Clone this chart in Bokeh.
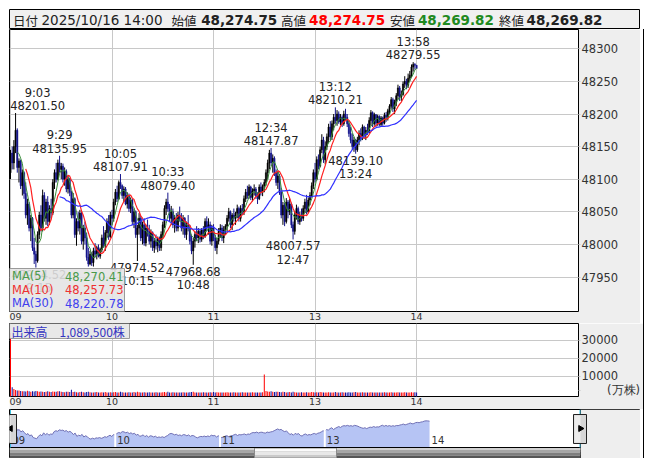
import math
import numpy as np
from bokeh.plotting import figure
from bokeh.models import Range1d, FixedTicker, Spacer, ColumnDataSource, BasicTickFormatter
from bokeh.layouts import column, row
from bokeh.core.properties import value
from bokeh.embed import file_html
from bokeh.resources import INLINE

# ---------------- data (1-minute bars, index 0 = 9:00, lunch break removed) ----------------
minutes = list(range(241))

opens = [
    48110, 48140, 48125, 48150, 48175, 48118, 48128, 48090, 48110, 48078,
    48045, 48062, 48025, 48040, 47995, 47985, 47975, 48015, 48045, 48025,
    48075, 48040, 48065, 48035, 48055, 48048, 48095, 48110, 48100, 48125,
    48115, 48120, 48100, 48112, 48085, 48100, 48080, 48045, 48070, 48015,
    48035, 48025, 48048, 48005, 48025, 48010, 47980, 47970, 47985, 47972,
    47990, 47985, 47995, 47982, 47992, 48010, 48000, 48018, 48035, 48012,
    48045, 48040, 48065, 48080, 48070, 48095, 48090, 48075, 48085, 48062,
    48075, 48055, 48068, 48035, 48050, 48015, 48025, 48040, 48010, 48030,
    48002, 48025, 48020, 48005, 48018, 47995, 48005, 47998, 48008, 47995,
    48015, 48030, 48055, 48065, 48055, 48040, 48050, 48030, 48040, 48025,
    48045, 48040, 48025, 48040, 48015, 48030, 48025, 48005, 47990, 48005,
    48015, 48010, 48020, 48008, 48022, 48012, 48035, 48025, 48030, 48005,
    48025, 48010, 47995, 48005, 48020, 48025, 48010, 48022, 48028, 48040,
    48050, 48030, 48045, 48040, 48048, 48055, 48040, 48055, 48050, 48070,
    48080, 48075, 48088, 48072, 48082, 48085, 48075, 48070, 48088, 48080,
    48090, 48095, 48110, 48125, 48140, 48125, 48132, 48110, 48095, 48105,
    48080, 48045, 48060, 48035, 48065, 48050, 48062, 48030, 48020, 48045,
    48055, 48035, 48045, 48040, 48055, 48065, 48050, 48068, 48075, 48090,
    48110, 48100, 48130, 48120, 48145, 48160, 48130, 48150, 48165, 48180,
    48165, 48185, 48195, 48190, 48200, 48188, 48195, 48185, 48200, 48195,
    48185, 48170, 48160, 48150, 48160, 48145, 48160, 48170, 48165, 48180,
    48168, 48175, 48172, 48190, 48202, 48185, 48199, 48186, 48196, 48184,
    48194, 48186, 48198, 48195, 48205, 48212, 48222, 48208, 48218, 48228,
    48240, 48226, 48230, 48246, 48250, 48244, 48255, 48259.5, 48272, 48276,
    48274.75]

highs = [
    48145, 48150, 48160, 48201.50, 48178, 48132, 48130, 48115, 48112, 48095,
    48070, 48065, 48045, 48042, 48010, 47990, 48020, 48050, 48060, 48084,
    48080, 48070, 48074, 48060, 48070, 48100, 48115, 48125, 48130, 48135.95,
    48125, 48124, 48118, 48115, 48105, 48102, 48082, 48079, 48072, 48040,
    48050, 48053, 48052, 48030, 48035, 48018, 47995, 47990, 47988, 47995,
    48002, 47998, 48000, 47995, 48015, 48028, 48022, 48040, 48045, 48050,
    48053, 48070, 48085, 48090, 48098, 48107.91, 48092, 48089, 48088, 48080,
    48078, 48072, 48070, 48055, 48052, 48030, 48048, 48044, 48035, 48040,
    48030, 48038, 48030, 48023, 48020, 48010, 48015, 48012, 48012, 48020,
    48035, 48060, 48070, 48079.40, 48062, 48059, 48055, 48045, 48048, 48050,
    48058, 48048, 48045, 48042, 48035, 48045, 48030, 48015, 48010, 48020,
    48028, 48025, 48024, 48025, 48028, 48040, 48043, 48040, 48035, 48030,
    48031, 48015, 48010, 48025, 48031, 48030, 48028, 48031, 48045, 48056,
    48052, 48048, 48055, 48050, 48061, 48058, 48060, 48062, 48075, 48085,
    48090, 48092, 48090, 48086, 48092, 48088, 48080, 48092, 48095, 48092,
    48100, 48115, 48130, 48145, 48147.87, 48138, 48135, 48115, 48112, 48108,
    48087, 48065, 48064, 48071, 48068, 48070, 48064, 48035, 48050, 48061,
    48058, 48050, 48055, 48060, 48070, 48076, 48072, 48080, 48095, 48115,
    48125, 48135, 48138, 48150, 48169, 48165, 48158, 48170, 48185, 48189,
    48190, 48200, 48210.21, 48206, 48204, 48200, 48198, 48205, 48208, 48200,
    48190, 48180, 48170, 48165, 48162, 48165, 48175, 48178, 48184, 48182,
    48180, 48185, 48195, 48206, 48204, 48202, 48200, 48199, 48198, 48197,
    48196, 48202, 48203, 48208, 48215, 48226, 48225, 48222, 48232, 48245,
    48243, 48236, 48250, 48258, 48254, 48262, 48266, 48276, 48279.55, 48278,
    48274.75]

lows = [
    48100, 48115, 48115, 48140, 48110, 48095, 48085, 48075, 48070, 48040,
    48030, 48020, 48005, 47990, 47970, 47964.52, 47972, 48008, 48020, 48020,
    48035, 48030, 48028, 48030, 48040, 48045, 48085, 48095, 48098, 48110,
    48100, 48095, 48090, 48080, 48078, 48074, 48040, 48040, 48010, 47998,
    48020, 48015, 48000, 47992, 48000, 47975, 47966, 47968, 47967, 47966,
    47980, 47977, 47980, 47978, 47988, 47995, 47990, 48010, 48007, 48010,
    48030, 48035, 48060, 48065, 48068, 48085, 48070, 48065, 48060, 48055,
    48050, 48048, 48030, 48025, 48010, 47974.52, 48015, 48005, 48000, 47998,
    47997, 48012, 48000, 47995, 47990, 47987, 47992, 47988, 47990, 47990,
    48010, 48025, 48045, 48050, 48035, 48030, 48025, 48018, 48020, 48020,
    48035, 48020, 48015, 48010, 48007, 48020, 48000, 47985, 47968.68, 47995,
    48005, 48002, 48003, 48004, 48008, 48010, 48020, 48015, 48000, 47998,
    48005, 47990, 47985, 48000, 48010, 48005, 48002, 48015, 48020, 48035,
    48025, 48022, 48035, 48030, 48040, 48035, 48035, 48045, 48045, 48065,
    48070, 48070, 48068, 48066, 48075, 48070, 48062, 48068, 48075, 48074,
    48080, 48090, 48100, 48115, 48120, 48110, 48105, 48090, 48085, 48076,
    48040, 48030, 48028, 48032, 48040, 48045, 48025, 48007.57, 48015, 48038,
    48031, 48030, 48035, 48036, 48048, 48046, 48048, 48060, 48072, 48085,
    48095, 48098, 48115, 48118, 48140, 48125, 48123, 48145, 48155, 48160,
    48160, 48175, 48185, 48182, 48185, 48183, 48180, 48182, 48190, 48180,
    48165, 48155, 48145, 48142, 48139.10, 48142, 48152, 48158, 48160, 48162,
    48160, 48168, 48170, 48182, 48180, 48182, 48180, 48182, 48181, 48181,
    48182, 48184, 48188, 48190, 48200, 48208, 48203, 48200, 48212, 48222,
    48220, 48220, 48228, 48240, 48238, 48240, 48250, 48256, 48265, 48268,
    48269.82]

closes = [
    48140, 48125, 48150, 48175, 48118, 48128, 48090, 48110, 48078, 48045,
    48062, 48025, 48040, 47995, 47985, 47975, 48015, 48045, 48025, 48075,
    48040, 48065, 48035, 48055, 48048, 48095, 48110, 48100, 48125, 48115,
    48120, 48100, 48112, 48085, 48100, 48080, 48045, 48070, 48015, 48035,
    48025, 48048, 48005, 48025, 48010, 47980, 47970, 47985, 47972, 47990,
    47985, 47995, 47982, 47992, 48010, 48000, 48018, 48035, 48012, 48045,
    48040, 48065, 48080, 48070, 48095, 48090, 48075, 48085, 48062, 48075,
    48055, 48068, 48035, 48050, 48015, 48025, 48040, 48010, 48030, 48002,
    48025, 48020, 48005, 48018, 47995, 48005, 47998, 48008, 47995, 48015,
    48030, 48055, 48065, 48055, 48040, 48050, 48030, 48040, 48025, 48045,
    48040, 48025, 48040, 48015, 48030, 48025, 48005, 47990, 48005, 48015,
    48010, 48020, 48008, 48022, 48012, 48035, 48025, 48030, 48005, 48025,
    48010, 47995, 48005, 48020, 48025, 48010, 48022, 48028, 48040, 48050,
    48030, 48045, 48040, 48048, 48055, 48040, 48055, 48050, 48070, 48080,
    48075, 48088, 48072, 48082, 48085, 48075, 48070, 48088, 48080, 48090,
    48095, 48110, 48125, 48140, 48125, 48132, 48110, 48095, 48105, 48080,
    48045, 48060, 48035, 48065, 48050, 48062, 48030, 48020, 48045, 48055,
    48035, 48045, 48040, 48055, 48065, 48050, 48068, 48075, 48090, 48110,
    48100, 48130, 48120, 48145, 48160, 48130, 48150, 48165, 48180, 48165,
    48185, 48195, 48190, 48200, 48188, 48195, 48185, 48200, 48195, 48185,
    48170, 48160, 48150, 48160, 48145, 48160, 48170, 48165, 48180, 48168,
    48175, 48172, 48190, 48202, 48185, 48199, 48186, 48196, 48184, 48194,
    48186, 48198, 48195, 48205, 48212, 48222, 48208, 48218, 48228, 48240,
    48226, 48230, 48246, 48250, 48244, 48255, 48259.5, 48272, 48276, 48274.75,
    48269.82]

volumes = [
    34000, 3800, 2900, 2300, 2000, 2100, 1800, 1600, 1700, 1500,
    1900, 1600, 1400, 1700, 1500, 1800, 1600, 1400, 1500, 1300,
    1200, 1400, 1600, 1300, 1200, 1500, 1400, 1300, 1600, 1700,
    1300, 1200, 1100, 1300, 1400, 1200, 2500, 1200, 1300, 1100,
    1000, 1200, 1300, 1100, 1000, 1200, 1400, 1100, 1000, 900,
    1100, 1200, 1000, 900, 1100, 1000, 1200, 900, 1000, 1100,
    1000, 1100, 1200, 1000, 900, 1300, 1100, 1000, 900, 1000,
    1100, 900, 1000, 1200, 1000, 1300, 1100, 900, 1000, 1100,
    900, 1000, 1100, 900, 1000, 900, 1100, 1000, 900, 1000,
    1100, 1200, 1000, 1300, 1000, 900, 1100, 1000, 900, 1000,
    1000, 900, 1100, 1000, 900, 1000, 1100, 1200, 1300, 1000,
    900, 1000, 900, 1000, 1100, 900, 1000, 900, 1100, 1000,
    1200, 1000, 1100, 900, 1000, 1000, 900, 1000, 1100, 1000,
    900, 1000, 1100, 900, 1000, 900, 1000, 1100, 900, 1000,
    1000, 900, 1000, 1100, 900, 1000, 1000, 900, 1000, 1100,
    11000, 1800, 1500, 1400, 1600, 1300, 1200, 1400, 1300, 1200,
    1100, 1300, 1200, 1000, 1100, 1200, 1000, 1300, 1100, 1000,
    900, 1000, 1100, 900, 1000, 1100, 900, 1000, 1200, 1100,
    1000, 1100, 1000, 1200, 1100, 1000, 900, 1000, 1100, 1000,
    900, 1000, 1200, 1000, 900, 1000, 1100, 900, 1000, 1000,
    1100, 900, 1000, 1100, 1200, 1000, 900, 1000, 1100, 900,
    1000, 900, 1000, 1100, 900, 1000, 1000, 900, 1000, 900,
    1000, 1100, 900, 1000, 1000, 1100, 900, 1000, 1000, 1100,
    1000, 900, 1000, 1100, 1000, 900, 1000, 1100, 1000, 1100,
    1000]

hour_ticks = [0, 60, 120, 180, 240]
hour_labels = ["09", "10", "11", "13", "14"]
price_ticks = [47950, 48000, 48050, 48100, 48150, 48200, 48250, 48300]
vol_ticks = [10000, 20000, 30000]
vol_unit_label = "(万株)"

hi_idx = [3, 29, 65, 93, 154, 192, 238]
hi_time = ["9:03", "9:29", "10:05", "10:33", "12:34", "13:12", "13:58"]
lo_idx = [15, 75, 108, 167, 204]
lo_time = ["9:15", "10:15", "10:48", "12:47", "13:24"]

hdr_date = "2025/10/16 14:00"
hdr_open = "48,274.75"
hdr_high = "48,274.75"
hdr_low = "48,269.82"
hdr_close = "48,269.82"
ma_periods = [5, 10, 30]
ma_names = ["MA(5)", "MA(10)", "MA(30)"]
ma_last = ["48,270.41", "48,257.73", "48,220.78"]
vol_total = "1,089,500"

# ---------------- styling ----------------
DV = value("DejaVu Sans")
JP = value("Noto Sans CJK JP")
UP, DOWN = "#000000", "#14148c"
VUP, VDOWN = "#ff0000", "#1010a0"
MA_COL = ["#3a8f3a", "#ff2020", "#3030ff"]
MA_TXT = ["#4a9a4a", "#ee3030", "#4040ee"]
GRID = "#c8c8c8"
PANEL = "#eeeeee"

# pixel -> data helpers (layout only)
def mx(px): return (px - 11.0) / 1.692
def py(px): return 48300.0 - (px - 49.3) / 0.652
def vy(px): return (394.7 - px) / 0.0018
def nx(px): return (px - 11.0) / 1.746
def ny(px): return 48270.0 - (px - 421.7) * 16.8

# labels near the left frame edge are nudged inward (screen px)
hi_shift = [22, 0, 0, 0, 0, 0, 0]
lo_shift = [3, 0, 0, 0, 0]

c_arr = np.array(closes, dtype=float)
def sma(n):
    out = np.full(len(c_arr), np.nan)
    for i in range(n - 1, len(c_arr)):
        out[i] = c_arr[i - n + 1:i + 1].mean()
    return out

up = [c >= o for o, c in zip(opens, closes)]
src = ColumnDataSource(dict(
    x=minutes, h=highs, l=lows,
    top=[max(o, c) for o, c in zip(opens, closes)],
    bot=[min(o, c) for o, c in zip(opens, closes)],
    col=[UP if u else DOWN for u in up],
    vcol=[VUP if u else VDOWN for u in up],
    vol=volumes))

# ---------------- header ----------------
h = figure(frame_width=631, frame_height=20, x_range=Range1d(0, 631), y_range=Range1d(0, 20),
           x_axis_type=None, y_axis_type=None, toolbar_location=None, output_backend="svg",
           min_border=0, background_fill_color="#f0f0f0", outline_line_color="black")
h.grid.visible = False
hdr_items = [
    ("日付", 3.5, "jp", "#222222"), (hdr_date, 32, "n", "#222222"),
    ("始値", 162, "jp", "#222222"), (hdr_open, 191.7, "b", "#222222"),
    ("高値", 271.5, "jp", "#222222"), (hdr_high, 299.6, "b", "#ff0000"),
    ("安値", 380.5, "jp", "#222222"), (hdr_low, 408.4, "b", "#1f8a1f"),
    ("終値", 489.5, "jp", "#222222"), (hdr_close, 517, "b", "#222222"),
]
for txt, xx, kind, colr in hdr_items:
    if kind == "jp":
        h.text(x=[xx], y=[9.5], text=[txt], text_font=JP, text_font_size="12.5px",
               text_baseline="middle", text_color=colr)
    elif kind == "n":
        h.text(x=[xx], y=[9.5], text=[txt], text_font=DV, text_font_size="13.5px",
               text_baseline="middle", text_color=colr)
    else:
        h.text(x=[xx], y=[9.5], text=[txt], text_font=DV, text_font_size="13.5px",
               text_font_style="bold", text_baseline="middle", text_color=colr)

# ---------------- main price panel ----------------
p = figure(frame_width=569, frame_height=282, x_range=Range1d(mx(10), mx(579)),
           y_range=Range1d(py(312), py(30)), y_axis_location="right",
           toolbar_location=None, output_backend="svg",
           min_border_left=0, min_border_top=0, min_border_right=62, min_border_bottom=12,
           border_fill_color=PANEL, background_fill_color="white", outline_line_color="black")

def style_axes(fig, yticks, extra=None):
    fig.xaxis.ticker = FixedTicker(ticks=hour_ticks)
    fig.xaxis.major_label_overrides = {t: l for t, l in zip(hour_ticks, hour_labels)}
    fig.xaxis.axis_line_color = None
    fig.xaxis.major_tick_line_color = None
    fig.xaxis.minor_tick_line_color = None
    fig.xaxis.major_tick_out = 0
    fig.xaxis.major_tick_in = 0
    fig.xaxis.major_label_standoff = 1
    fig.xaxis.major_label_text_align = "left"
    fig.xaxis.major_label_text_font = "DejaVu Sans"
    fig.xaxis.major_label_text_font_size = "9.5px"
    fig.xaxis.major_label_text_color = "#333333"
    ticks = list(yticks)
    if extra is not None:
        ticks = ticks + [extra[0]]
        fig.yaxis.major_label_overrides = {extra[0]: extra[1]}
    fig.yaxis.ticker = FixedTicker(ticks=ticks)
    fig.ygrid.ticker = FixedTicker(ticks=list(yticks))
    fig.xgrid.ticker = FixedTicker(ticks=hour_ticks)
    fig.yaxis.formatter = BasicTickFormatter(use_scientific=False)
    fig.yaxis.axis_line_color = None
    fig.yaxis.major_tick_line_color = GRID
    fig.yaxis.minor_tick_line_color = None
    fig.yaxis.major_tick_out = 2
    fig.yaxis.major_tick_in = 0
    fig.yaxis.major_label_standoff = 1
    fig.yaxis.major_label_text_font = "DejaVu Sans"
    fig.yaxis.major_label_text_font_size = "11.5px"
    fig.yaxis.major_label_text_color = "#333333"
    fig.grid.grid_line_color = GRID
    fig.grid.grid_line_width = 1

style_axes(p, price_ticks)

p.segment(x0="x", y0="l", x1="x", y1="h", line_color="col", line_width=1, source=src)
p.vbar(x="x", width=0.75, top="top", bottom="bot", fill_color="col", line_color="col",
       line_width=0.5, source=src)
for n_, colr, lw in zip(ma_periods, MA_COL, [1.0, 1.2, 1.2]):
    p.line(minutes, sma(n_), line_color=colr, line_width=lw)

# high / low annotations
hi_src = ColumnDataSource(dict(
    x=hi_idx, y=[highs[i] for i in hi_idx], dx=hi_shift,
    t=[f"{t}\n{highs[i]:.2f}" for i, t in zip(hi_idx, hi_time)]))
lo_src = ColumnDataSource(dict(
    x=lo_idx, y=[lows[i] for i in lo_idx], dx=lo_shift,
    t=[f"{lows[i]:.2f}\n{t}" for i, t in zip(lo_idx, lo_time)]))
p.text(x="x", y="y", text="t", x_offset="dx", source=hi_src,
       text_align="center", text_baseline="bottom", text_font=DV, text_font_size="11.5px",
       text_color="#222222", text_line_height=0.95)
p.text(x="x", y="y", text="t", x_offset="dx", source=lo_src,
       text_align="center", text_baseline="top", text_font=DV, text_font_size="11.5px",
       text_color="#222222", text_line_height=0.95)

# MA legend box
p.quad(left=mx(10), right=mx(125), bottom=py(312), top=py(269), fill_color="#e4e4e4",
       fill_alpha=0.88, line_color="#9a9a9a", line_width=1)
for k, (nm, val, tc) in enumerate(zip(ma_names, ma_last, MA_TXT)):
    yy = py(276.7 + 13.6 * k)
    p.text(x=[mx(12.5)], y=[yy], text=[nm], text_font=DV, text_font_size="11.5px",
           text_baseline="middle", text_color=tc)
    p.text(x=[mx(124)], y=[yy], text=[val], text_font=DV, text_font_size="11.5px",
           text_baseline="middle", text_align="right", text_color=tc)

# ---------------- volume panel ----------------
v = figure(frame_width=569, frame_height=73, x_range=p.x_range,
           y_range=Range1d(vy(397), vy(324)), y_axis_location="right",
           toolbar_location=None, output_backend="svg",
           min_border_left=0, min_border_top=0, min_border_right=62, min_border_bottom=13,
           border_fill_color=PANEL, background_fill_color="white", outline_line_color="black")
# the unit caption sits in the axis column, slightly right of the tick labels
style_axes(v, vol_ticks, extra=(vy(390.5), "\u00a0" * 7 + vol_unit_label))
v.vbar(x="x", width=0.6, top="vol", bottom=vy(397), fill_color="vcol", line_color=None, source=src)
v.quad(left=mx(10), right=mx(130), bottom=vy(339), top=vy(324), fill_color="#e6e6e6",
       fill_alpha=0.9, line_color="#9a9a9a")
v.text(x=[mx(12)], y=[vy(331.7)], text=["出来高　" + vol_total + "株"], text_font=JP,
       text_font_size="12px", text_baseline="middle", text_color="#3535c0")

# ---------------- navigator ----------------
n = figure(frame_width=631, frame_height=49, x_range=Range1d(nx(10), nx(641)),
           y_range=Range1d(ny(459), ny(410)), x_axis_type=None, y_axis_type=None,
           toolbar_location=None, output_backend="svg", min_border=0,
           background_fill_color="white", outline_line_color="black")
n.grid.visible = False
n.varea(x=minutes, y1=ny(448), y2=closes, fill_color="#b6c4f4")
n.line(minutes, closes, line_color="#7070b4", line_width=1)
n.segment(x0=hour_ticks[1:4], x1=hour_ticks[1:4], y0=ny(448), y1=ny(411),
          line_color="white", line_width=2)
n.text(x=hour_ticks, y=ny(440.5), text=hour_labels, x_offset=2, text_font=DV,
       text_font_size="10px", text_baseline="middle", text_color="#333333")
# right grey area
n.quad(left=nx(581), right=nx(642), bottom=ny(460), top=ny(410), fill_color=PANEL, line_color=None)
n.segment(x0=[nx(581)], x1=[nx(581)], y0=[ny(410)], y1=[ny(459)], line_color="#222222")
# scrollbar
for (t_, b_, cl) in [(448, 450.5, "#d0d0d0"), (450.5, 453, "#a6a6a6"), (453, 456, "#7e7e7e"), (456, 459.5, "#565656")]:
    n.quad(left=nx(10), right=nx(581), top=ny(t_), bottom=ny(b_), fill_color=cl, line_color=None)
for (t_, b_, cl) in [(448.5, 452, "#fbfbfb"), (452, 455.5, "#e8e8e8"), (455.5, 458.5, "#cacaca")]:
    n.quad(left=nx(255), right=nx(337), top=ny(t_), bottom=ny(b_), fill_color=cl, line_color=None)
n.quad(left=nx(255), right=nx(337), top=ny(448.5), bottom=ny(458.5), fill_color=None, line_color="#8a8a8a")
n.segment(x0=[nx(10)], x1=[nx(581)], y0=[ny(448)], y1=[ny(448)], line_color="black")
# selection edges and handles
n.segment(x0=[nx(11), nx(580.5)], x1=[nx(11), nx(580.5)], y0=ny(448), y1=ny(410),
          line_color="#3cc0e0", line_width=1)
n.quad(left=[nx(4), nx(574)], right=[nx(17), nx(587)], bottom=ny(444), top=ny(415),
       fill_color="#d6d6d6", line_color="#222222")
n.quad(left=[nx(5), nx(575)], right=[nx(11), nx(581)], bottom=ny(443), top=ny(416),
       fill_color="#ececec", line_color=None)
n.scatter(x=[nx(11), nx(581)], y=[ny(429), ny(429)], marker="triangle", size=6,
          angle=[math.pi / 2, -math.pi / 2], fill_color="black", line_color="black")

inner = column(p, v, n, styles={"border-right": "1px solid #000000"})
root = row(Spacer(width=9), column(Spacer(height=9), h, inner))

open("out.html", "w").write(file_html(root, INLINE, title="chart"))
